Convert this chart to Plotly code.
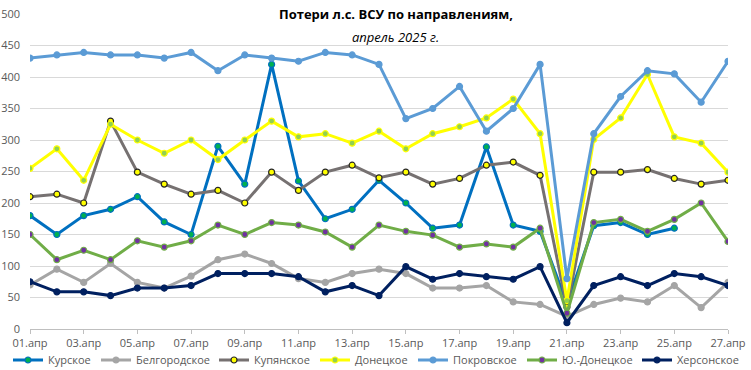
import plotly.graph_objects as go

days = [f"{d:02d}.апр" for d in range(1, 28)]
tick_days = days[::2]

kursk = [180,150,180,190,210,170,150,290,230,420,235,175,190,236,200,160,165,289,165,155,40,164,169,150,160,None,None]
belgorod = [70,95,74,104,74,65,84,110,119,104,80,74,88,95,88,65,65,69,43,39,20,39,49,43,69,34,74]
kupyansk = [210,214,200,330,249,230,214,220,200,249,220,249,260,240,249,230,239,260,265,244,35,249,249,253,239,230,236]
donetsk = [255,286,236,325,300,279,300,269,300,330,305,310,295,314,286,310,321,335,365,310,45,301,335,404,305,295,249]
pokrovsk = [430,435,439,435,435,430,439,410,435,430,425,439,435,420,334,350,385,314,350,420,80,310,369,410,405,360,425]
yudonetsk = [150,110,125,110,140,130,140,165,150,169,165,154,130,165,155,149,130,135,130,160,25,169,174,155,174,200,139]
kherson = [75,59,59,53,65,65,69,88,88,88,83,59,69,53,99,79,88,83,79,99,10,69,83,69,88,83,69]

series = [
    ("Курское", kursk, "#0070C0", "#00B050", "#0070C0"),
    ("Белгородское", belgorod, "#A5A5A5", "#A5A5A5", "#A5A5A5"),
    ("Купянское", kupyansk, "#767171", "#FFFF00", "#262626"),
    ("Донецкое", donetsk, "#FFFF00", "#92D050", "#FFFF00"),
    ("Покровское", pokrovsk, "#5B9BD5", "#5B9BD5", "#5B9BD5"),
    ("Ю.-Донецкое", yudonetsk, "#70AD47", "#7030A0", "#70AD47"),
    ("Херсонское", kherson, "#002060", "#002060", "#002060"),
]
# legend text start (px) in the reference
legend_text_px = [48, 136, 254, 355, 453, 562, 677]

FONT = "Open Sans"
W, H = 751, 370
PL, PW = 30, 698
fig = go.Figure()
layout_legends = {}
for i, ((name, vals, lc, mfill, mline), lx) in enumerate(zip(series, legend_text_px)):
    lname = "legend" if i == 0 else f"legend{i+1}"
    fig.add_trace(go.Scatter(
        x=days, y=vals, name=name, mode="lines+markers",
        line=dict(color=lc, width=3),
        marker=dict(size=6, color=mfill, line=dict(color=mline, width=1.2)),
        connectgaps=False, legend=lname,
    ))
    layout_legends[lname] = dict(
        orientation="h", xref="container", yref="container",
        x=(lx - 40) / W, xanchor="left",
        y=1 - 360 / H, yanchor="middle", font=dict(size=11, color="#595959"),
        itemwidth=30, bgcolor="rgba(0,0,0,0)", borderwidth=0,
    )

fig.update_layout(
    width=W, height=H,
    margin=dict(l=PL, r=23, t=14, b=41, autoexpand=False),
    paper_bgcolor="white", plot_bgcolor="white",
    font=dict(family=FONT, size=11, color="#595959"),
    showlegend=True,
    xaxis=dict(type="category", range=[0, 26], tickmode="array", tickvals=tick_days,
               ticktext=tick_days, showgrid=False, showline=True, linecolor="#BFBFBF",
               linewidth=1, ticks="outside", ticklen=4, tickcolor="#BFBFBF",
               tickfont=dict(size=11, color="#595959"), zeroline=False, automargin=False),
    yaxis=dict(range=[0, 500], dtick=50, showgrid=True, gridcolor="#D9D9D9", gridwidth=1,
               zeroline=False, showline=False, tickfont=dict(size=11, color="#595959"),
               ticklabelstandoff=9, automargin=False),
    annotations=[
        dict(text="<b>Потери л.с. ВСУ по направлениям,</b>", xref="paper", yref="paper",
             x=0.524, y=1.0, xanchor="center", yanchor="middle", showarrow=False,
             font=dict(family=FONT, size=13, color="black"), bgcolor="white", borderpad=1),
        dict(text="<i>апрель 2025 г.</i>", xref="paper", yref="paper",
             x=0.524, y=0.927, xanchor="center", yanchor="middle", showarrow=False,
             font=dict(family=FONT, size=13, color="black")),
    ],
    **layout_legends,
)

fig.write_html("out.html", config={"displayModeBar": False},
               post_script="document.body.style.margin='0';document.body.style.padding='0';")
